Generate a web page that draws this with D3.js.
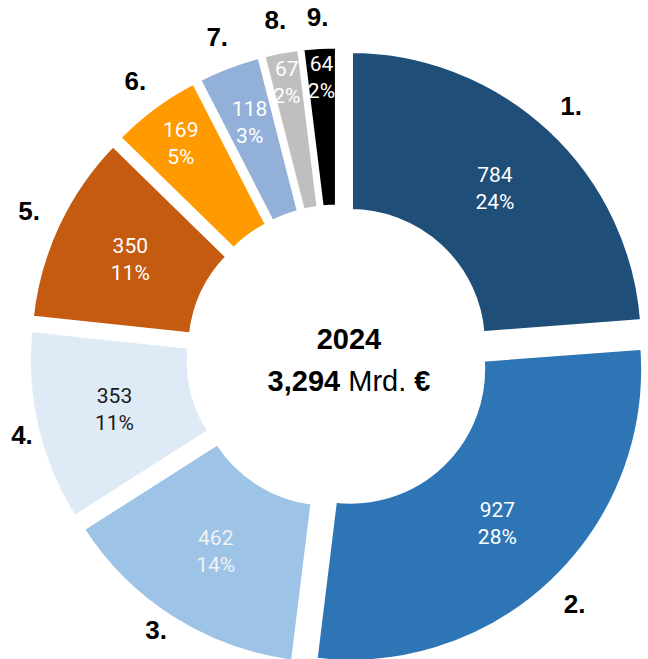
<!DOCTYPE html>
<html>
<head>
<meta charset="utf-8">
<script src="https://cdn.jsdelivr.net/npm/d3@7/dist/d3.min.js"></script>
<style>
  body { margin: 0; background: #fff; }
  svg { display: block; }
  .val { font-family: Roboto, "Liberation Sans", sans-serif; font-size: 21px; }
  .cat { font-family: "Liberation Sans Narrow", "Liberation Sans", Arial, sans-serif; font-weight: bold; font-size: 26px; }
  .mid { font-family: "Liberation Sans", Arial, sans-serif; font-size: 29px; }
</style>
</head>
<body>
<svg width="648" height="659"></svg>
<script>
// data
var categories = ["1.", "2.", "3.", "4.", "5.", "6.", "7.", "8.", "9."];
var values = [784, 927, 462, 353, 350, 169, 118, 67, 64];
var shares = ["24%", "28%", "14%", "11%", "11%", "5%", "3%", "2%", "2%"];
var year = "2024";
var totalText = "3,294";
var unitText = "Mrd.";

var colors = ["#1f4e79", "#2e75b6", "#9dc3e6", "#deebf7", "#c55a11", "#ff9a00", "#93b1d8", "#bfbfbf", "#000000"];
var textColors = ["#fff", "#fff", "#f2f2f2", "#1a1a1a", "#fff", "#fff", "#fff", "#fff", "#fff"];

var svg = d3.select("svg");
var W = 648, H = 659;
var cx = 338.5, cy = 356.5,
    outerR = 293, innerR = 132,
    explode = 17.6;

var pie = d3.pie().sort(null).value(function(d) { return d.value; });
var arc = d3.arc().innerRadius(innerR).outerRadius(outerR);

var data = values.map(function(v, i) {
  return { value: v, cat: categories[i], share: shares[i], i: i };
});
var arcs = pie(data);

function mid(d) { return (d.startAngle + d.endAngle) / 2; }
function polar(r, a) { return [r * Math.sin(a), -r * Math.cos(a)]; }

// small slices get their labels pushed out towards the rim
var labelR = d3.scaleLinear()
  .domain([0.12, 0.13, 0.22, 0.32, 0.4])
  .range([262, 262, 232, 249, (innerR + outerR) / 2])
  .clamp(true);

var g = svg.append("g").attr("transform", "translate(" + cx + "," + cy + ")");

var slice = g.selectAll("g.slice")
  .data(arcs)
  .enter().append("g")
    .attr("class", "slice")
    .attr("transform", function(d) {
      var p = polar(explode, mid(d));
      return "translate(" + p[0] + "," + p[1] + ")";
    });

slice.append("path")
  .attr("d", arc)
  .attr("fill", function(d) { return colors[d.data.i]; })
  .attr("stroke", "#fff")
  .attr("stroke-width", 5)
  .attr("stroke-linejoin", "miter");

var vt = slice.append("text")
  .attr("class", "val")
  .attr("text-anchor", "middle")
  .attr("fill", function(d) { return textColors[d.data.i]; })
  .attr("transform", function(d) {
    var p = polar(labelR(d.endAngle - d.startAngle), mid(d));
    return "translate(" + p[0] + "," + p[1] + ")";
  });
vt.append("tspan").attr("x", 0).attr("y", -6).text(function(d) { return d.data.value; });
vt.append("tspan").attr("x", 0).attr("y", 21).text(function(d) { return d.data.share; });

// category numbers outside, kept inside the frame
g.selectAll("text.cat")
  .data(arcs)
  .enter().append("text")
    .attr("class", "cat")
    .attr("text-anchor", "middle")
    .attr("transform", function(d) {
      var p = polar(342, mid(d));
      var x = Math.max(22 - cx, Math.min(W - 22 - cx, p[0]));
      var y = Math.max(26 - cy, Math.min(H - 20 - cy, p[1] + 9));
      return "translate(" + x + "," + y + ")";
    })
    .text(function(d) { return d.data.cat; });

// centre text
var ct = svg.append("text")
  .attr("class", "mid")
  .attr("text-anchor", "middle")
  .attr("x", 349);
ct.append("tspan").attr("x", 349).attr("y", 349).attr("font-weight", "bold").text(year);
var l2 = ct.append("tspan").attr("x", 349).attr("y", 391);
l2.append("tspan").attr("font-weight", "bold").text(totalText + " ");
l2.append("tspan").text(unitText + " ");
l2.append("tspan").attr("font-weight", "bold").text("€");
</script>
</body>
</html>
